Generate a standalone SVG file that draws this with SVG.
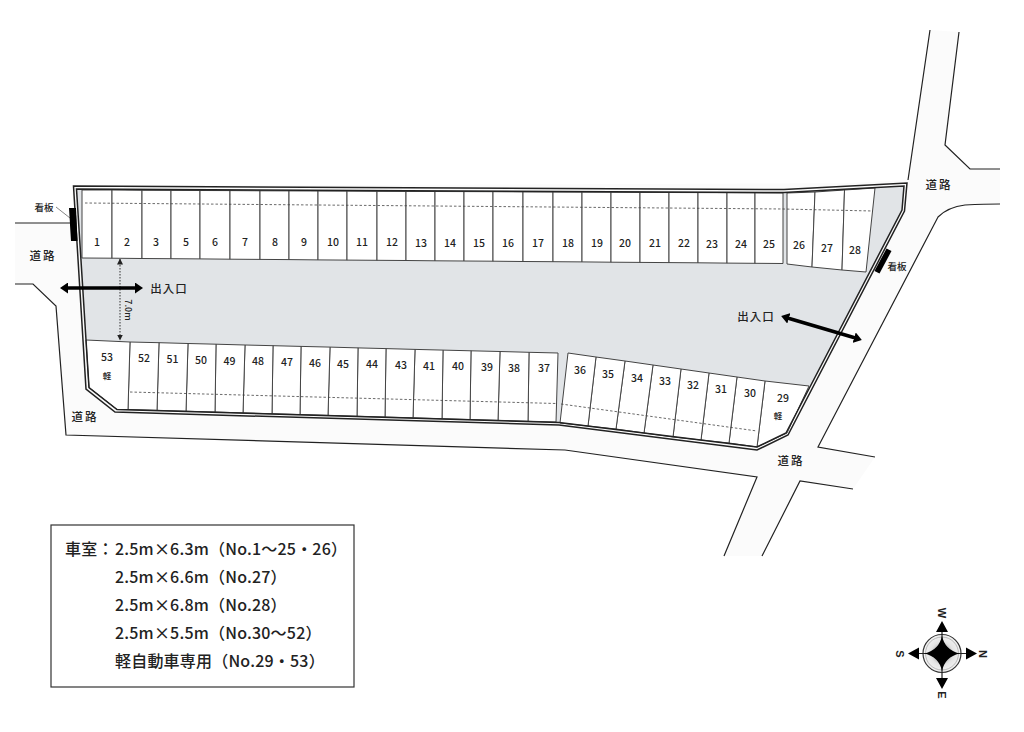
<svg xmlns="http://www.w3.org/2000/svg" width="1024" height="732" viewBox="0 0 1024 732">
<style>
text{font-family:"Noto Sans CJK JP","Noto Sans",sans-serif;font-weight:500;fill:#222;text-anchor:middle;dominant-baseline:central}
.n{font-size:10.500px}
.k{font-size:8.500px}
.r{font-size:11.500px;letter-spacing:2px}
.s{font-size:9.500px}
.g{font-size:11.500px;letter-spacing:1px}
.l{font-size:16px;letter-spacing:.2px;text-anchor:start;dominant-baseline:auto}
.c{font-family:"Liberation Sans",sans-serif;font-size:11px;font-weight:700}
.st{fill:#fff;stroke:#444;stroke-width:1}
.wall{fill:none;stroke:#222;stroke-width:1.500}
.edge{fill:none;stroke:#222;stroke-width:1.200}
.dash{fill:none;stroke:#444;stroke-width:.8;stroke-dasharray:2.500 2}
.ar{fill:none;stroke:#000;stroke-width:3.500}
</style>
<defs>
<radialGradient id="cg"><stop offset="0" stop-color="#777"/><stop offset=".6" stop-color="#e4e4e4"/><stop offset="1" stop-color="#f4f4f4"/></radialGradient>
<marker id="ah" viewBox="0 0 6 6" refX="5.500" refY="3" markerWidth="6" markerHeight="6" markerUnits="userSpaceOnUse" orient="auto-start-reverse"><path d="M0 0L6 3L0 6Z" fill="#222"/></marker>
<marker id="bh" viewBox="0 0 8 11" refX="4" refY="5.500" markerWidth="8" markerHeight="11" markerUnits="userSpaceOnUse" orient="auto-start-reverse"><path d="M0 0L8 5.500L0 11Z" fill="#000"/></marker>
</defs>
<g id="roads">
<path d="M15 223V284H33L56 306L66 435L565 450L757 477L724 556H762L800 481L853 489L875 457L818 447L938 217Q948 207 965 205Q985 204 1000 204V169H970L945 145L959 32L930 30L908 180L72 223Z" fill="#fbfbfb"/>
<polygon points="72,186 907,183 905,212 788,436 757,451 560,426 115,413 86,390" fill="#fbfbfb"/>
<path class="edge" d="M15 223H71M15 284H33L56 306L66 435L565 450L757 477L724 556M762 556L800 481L853 489M875 457L818 447L938 217Q948 207 965 205Q985 204 1000 204M1000 169H970L945 145L959 32M930 30L908 180"/>
<text class="r" x="43" y="255">道路</text>
<text class="r" x="85" y="416">道路</text>
<text class="r" x="939" y="184">道路</text>
<text class="r" x="791" y="460">道路</text>
</g>
<g id="lot">
<polygon points="76.500,189 784,192 904,186 902,210 786,433 757,447 559,422.500 117,409.500 89,387.500" fill="#e1e4e7"/>
</g>
<g id="s1"><polygon class="st" points="82,190 112,190 112,258.200 82,258"/><text class="n" x="97" y="241">1</text></g>
<g id="s2"><polygon class="st" points="112,190 142,190.300 142,258.500 112,258.200"/><text class="n" x="127" y="241">2</text></g>
<g id="s3"><polygon class="st" points="142,190.300 171,190.400 171,258.700 142,258.500"/><text class="n" x="156" y="241">3</text></g>
<g id="s5"><polygon class="st" points="171,190.400 200,190.500 200,258.900 171,258.700"/><text class="n" x="186" y="241">5</text></g>
<g id="s6"><polygon class="st" points="200,190.500 230,190.600 230,259.200 200,258.900"/><text class="n" x="215" y="241">6</text></g>
<g id="s7"><polygon class="st" points="230,190.600 260,190.800 260,259.400 230,259.200"/><text class="n" x="245" y="241">7</text></g>
<g id="s8"><polygon class="st" points="260,190.800 289,190.900 289,259.600 260,259.400"/><text class="n" x="275" y="241">8</text></g>
<g id="s9"><polygon class="st" points="289,190.900 318,191 318,259.900 289,259.600"/><text class="n" x="304" y="241">9</text></g>
<g id="s10"><polygon class="st" points="318,191 347,191.100 347,260.100 318,259.900"/><text class="n" x="333" y="241">10</text></g>
<g id="s11"><polygon class="st" points="347,191.100 377,191.300 377,260.300 347,260.100"/><text class="n" x="362" y="241">11</text></g>
<g id="s12"><polygon class="st" points="377,191.300 406,191.400 406,260.500 377,260.300"/><text class="n" x="392" y="241.500">12</text></g>
<g id="s13"><polygon class="st" points="406,191.400 435,191.500 435,260.800 406,260.500"/><text class="n" x="421" y="242">13</text></g>
<g id="s14"><polygon class="st" points="435,191.500 464,191.600 464,261 435,260.800"/><text class="n" x="450" y="242">14</text></g>
<g id="s15"><polygon class="st" points="464,191.600 493,191.700 493,261.200 464,261"/><text class="n" x="479" y="242">15</text></g>
<g id="s16"><polygon class="st" points="493,191.700 523,191.900 523,261.500 493,261.200"/><text class="n" x="508" y="242">16</text></g>
<g id="s17"><polygon class="st" points="523,191.900 553,192 553,261.700 523,261.500"/><text class="n" x="538" y="242">17</text></g>
<g id="s18"><polygon class="st" points="553,192 582,192.100 582,261.900 553,261.700"/><text class="n" x="568" y="242">18</text></g>
<g id="s19"><polygon class="st" points="582,192.100 611,192.200 611,262.200 582,261.900"/><text class="n" x="597" y="242">19</text></g>
<g id="s20"><polygon class="st" points="611,192.200 640,192.400 640,262.400 611,262.200"/><text class="n" x="625" y="242">20</text></g>
<g id="s21"><polygon class="st" points="640,192.400 669,192.500 669,262.600 640,262.400"/><text class="n" x="655" y="242.500">21</text></g>
<g id="s22"><polygon class="st" points="669,192.500 698,192.600 698,262.800 669,262.600"/><text class="n" x="684" y="242.500">22</text></g>
<g id="s23"><polygon class="st" points="698,192.600 727,192.700 727,263.100 698,262.800"/><text class="n" x="712" y="243">23</text></g>
<g id="s24"><polygon class="st" points="727,192.700 755,192.800 755,263.300 727,263.100"/><text class="n" x="741" y="243">24</text></g>
<g id="s25"><polygon class="st" points="755,192.800 783,193 783,263.500 755,263.300"/><text class="n" x="769" y="243">25</text></g>
<g id="s26"><polygon class="st" points="787,193 815,192 812,267 787,264"/><text class="n" x="799" y="244">26</text></g>
<g id="s27"><polygon class="st" points="815,192 844.500,190 842,270 812,267"/><text class="n" x="827" y="247">27</text></g>
<g id="s28"><polygon class="st" points="844.500,190 875,188 866,272 842,270"/><text class="n" x="855" y="249">28</text></g>
<g id="s29"><polygon class="st" points="765,381 809,386 787,433 757,447"/><text class="n" x="783" y="397">29</text><text class="k" x="778" y="415">軽</text></g>
<g id="s30"><polygon class="st" points="737,377 765,381 757,447 729,443"/><text class="n" x="750" y="392">30</text></g>
<g id="s31"><polygon class="st" points="709,373 737,377 729,443 701,440"/><text class="n" x="721" y="388">31</text></g>
<g id="s32"><polygon class="st" points="681,369 709,373 701,440 673,437"/><text class="n" x="693" y="384">32</text></g>
<g id="s33"><polygon class="st" points="653,365 681,369 673,437 644,433"/><text class="n" x="665" y="380">33</text></g>
<g id="s34"><polygon class="st" points="625,361 653,365 644,433 616,429"/><text class="n" x="637" y="377">34</text></g>
<g id="s35"><polygon class="st" points="596,357 625,361 616,429 588,426"/><text class="n" x="608" y="373">35</text></g>
<g id="s36"><polygon class="st" points="568,353 596,357 588,426 560,423"/><text class="n" x="580" y="369">36</text></g>
<g id="s37"><polygon class="st" points="529,352.300 558,353 556,422 528,421.200"/><text class="n" x="544" y="367">37</text></g>
<g id="s38"><polygon class="st" points="500,351.500 529,352.300 528,421.200 498,420.300"/><text class="n" x="514" y="367">38</text></g>
<g id="s39"><polygon class="st" points="471,350.800 500,351.500 498,420.300 470,419.500"/><text class="n" x="487" y="366">39</text></g>
<g id="s40"><polygon class="st" points="443,350.100 471,350.800 470,419.500 442,418.700"/><text class="n" x="458" y="365">40</text></g>
<g id="s41"><polygon class="st" points="415,349.400 443,350.100 442,418.700 413,417.800"/><text class="n" x="429" y="365">41</text></g>
<g id="s43"><polygon class="st" points="386,348.600 415,349.400 413,417.800 385,417"/><text class="n" x="401" y="364">43</text></g>
<g id="s44"><polygon class="st" points="358,347.900 386,348.600 385,417 357,416.200"/><text class="n" x="372" y="363.500">44</text></g>
<g id="s45"><polygon class="st" points="330,347.100 358,347.900 357,416.200 328,415.300"/><text class="n" x="343" y="363">45</text></g>
<g id="s46"><polygon class="st" points="301,346.400 330,347.100 328,415.300 300,414.500"/><text class="n" x="315" y="362">46</text></g>
<g id="s47"><polygon class="st" points="273,345.700 301,346.400 300,414.500 272,413.700"/><text class="n" x="287" y="361">47</text></g>
<g id="s48"><polygon class="st" points="245,345 273,345.700 272,413.700 243,412.900"/><text class="n" x="258" y="360.500">48</text></g>
<g id="s49"><polygon class="st" points="216,344.200 245,345 243,412.900 215,412"/><text class="n" x="229.500" y="360">49</text></g>
<g id="s50"><polygon class="st" points="188,343.500 216,344.200 215,412 186,411.200"/><text class="n" x="201" y="359">50</text></g>
<g id="s51"><polygon class="st" points="159,342.700 188,343.500 186,411.200 157,410.300"/><text class="n" x="172.500" y="358.500">51</text></g>
<g id="s52"><polygon class="st" points="130,342 159,342.700 157,410.300 128,409.500"/><text class="n" x="144" y="357.500">52</text></g>
<g id="s53"><polygon class="st" points="86,340 130,342 128,409.500 117,409.500 89,387.500"/><text class="n" x="107" y="356">53</text><text class="k" x="107" y="375">軽</text></g>
<g id="connectors">
<polygon class="wall" points="73.500,186 784,189.500 907,183 904.500,211 788,435 757,450 559,425 115,412 86,389"/>
<polygon class="wall" points="76.500,189 784,192.500 904,186 902,210 786,433 757,447 559,422.500 117,409.500 89,387.500"/>
<path class="dash" d="M85 203L783 209L873 211M130 392L556 403.500M561 404L757 431"/>
<path d="M120 259V340" fill="none" stroke="#333" stroke-width="1" stroke-dasharray="1.500 1.500" marker-start="url(#ah)" marker-end="url(#ah)"/>
<path d="M56 207L70 218" fill="none" stroke="#666" stroke-width=".8"/>
<path class="ar" d="M64 288H139" marker-start="url(#bh)" marker-end="url(#bh)"/>
<path class="ar" d="M785 317.200L858 338.800" marker-start="url(#bh)" marker-end="url(#bh)"/>
</g>
<g id="sign-left"><polygon points="69,208 76,208 77.500,241 71,241" fill="#000"/><text class="s" x="44" y="207">看板</text></g>
<g id="sign-right"><polygon points="886.500,248.500 891.500,251 879.500,273.500 874.500,271" fill="#000"/><text class="s" x="897" y="266">看板</text></g>
<g id="gate-left"><text class="g" x="169" y="288">出入口</text></g>
<g id="gate-right"><text class="g" x="756" y="316">出入口</text></g>
<g id="width-label"><text style="font-size:9px" transform="translate(128.500 310) rotate(90)">7.0m</text></g>
<g id="legend">
<rect x="51" y="525" width="303" height="162" fill="#fff" stroke="#333" stroke-width="1.200"/>
<text class="l" x="65" y="555">車室：</text>
<text class="l" x="115" y="555">2.5m×6.3m（No.1～25・26）</text>
<text class="l" x="115" y="583">2.5m×6.6m（No.27）</text>
<text class="l" x="115" y="610.500">2.5m×6.8m（No.28）</text>
<text class="l" x="115" y="638.500">2.5m×5.5m（No.30～52）</text>
<text class="l" x="115" y="666.500">軽自動車専用（No.29・53）</text>
</g>
<g id="compass">
<circle cx="942" cy="653.500" r="19" fill="url(#cg)" stroke="#333" stroke-width="1.200"/>
<circle cx="942" cy="653.500" r="16.500" fill="none" stroke="#aaa" stroke-width=".8"/>
<path d="M942 628V680M916 653.500H968" stroke="#222" stroke-width="1.200"/>
<path d="M942 636Q945 650 959.500 653.500Q945 657 942 671Q939 657 924.500 653.500Q939 650 942 636Z" fill="#000"/>
<path d="M942 621L948 632H936ZM942 689L948 678H936ZM908 653.500L919 647.500V659.500ZM977 653.500L966 647.500V659.500Z" fill="#000"/>
<text class="c" transform="translate(942 613) rotate(90)">W</text>
<text class="c" transform="translate(942 695) rotate(90)">E</text>
<text class="c" transform="translate(900 654) rotate(90)">S</text>
<text class="c" transform="translate(983 654) rotate(90)">N</text>
</g>
</svg>
